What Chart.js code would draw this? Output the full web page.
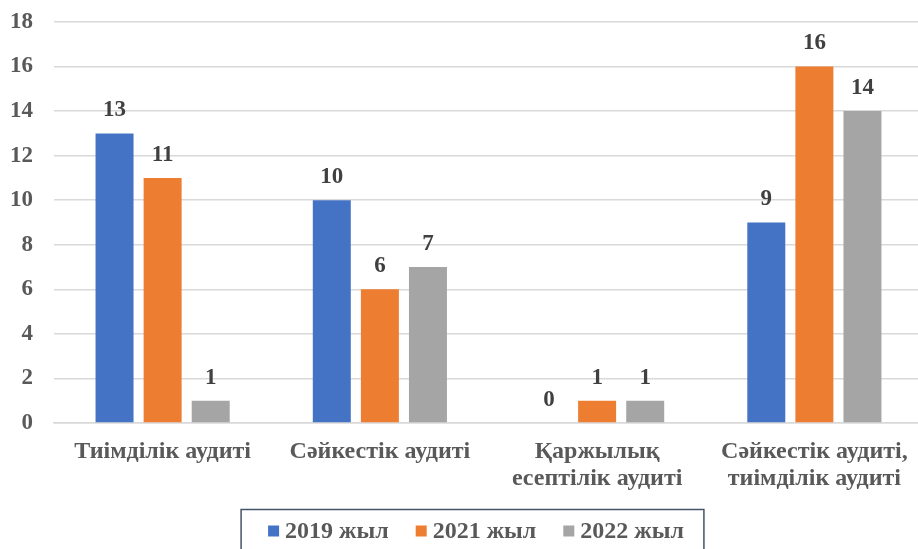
<!DOCTYPE html>
<html><head><meta charset="utf-8">
<script src="https://cdn.jsdelivr.net/npm/chart.js@4"></script>
<style>
html,body{margin:0;padding:0;background:#fff;overflow:hidden;}
#wrap{width:926px;height:549px;position:relative;}
</style></head>
<body><div id="wrap"><canvas id="c" width="926" height="549"></canvas></div>
<script>
const categories = [["Тиімділік аудиті"], ["Сәйкестік аудиті"], ["Қаржылық", "есептілік аудиті"], ["Сәйкестік аудиті,", "тиімділік аудиті"]];
const seriesNames = ["2019 жыл", "2021 жыл", "2022 жыл"];
const values2019 = [13, 10, 0, 9];
const values2021 = [11, 6, 1, 16];
const values2022 = [1, 7, 1, 14];
const yTicks = [0, 2, 4, 6, 8, 10, 12, 14, 16, 18];
const colors = ["#4472C4", "#ED7D31", "#A5A5A5"];

const FONT = "'Liberation Serif', 'Times New Roman', 'DejaVu Serif', serif";

const dataLabels = {
  id: 'dataLabels',
  afterDatasetsDraw(chart) {
    const ctx = chart.ctx;
    ctx.save();
    ctx.font = "bold 23px " + FONT;
    ctx.fillStyle = "#404040";
    ctx.textAlign = "center";
    ctx.textBaseline = "middle";
    chart.data.datasets.forEach((ds, i) => {
      const meta = chart.getDatasetMeta(i);
      meta.data.forEach((el, j) => {
        ctx.fillText(String(ds.data[j]), el.x, el.y - 23);
      });
    });
    ctx.restore();
  }
};

const customLegend = {
  id: 'customLegend',
  afterDraw(chart) {
    const ctx = chart.ctx;
    ctx.save();
    ctx.font = "bold 24px " + FONT;
    ctx.textBaseline = "middle";
    const box = 11, gap = 6, spacing = 27;
    const items = chart.data.datasets.map(ds => ({ label: ds.label, color: ds.backgroundColor, w: ctx.measureText(ds.label).width }));
    let total = 0;
    items.forEach((it, i) => { total += box + gap + it.w + (i ? spacing : 0); });
    const cx = 476, cy = 531;
    let x = cx - total / 2;
    const left = x - 27, right = cx + total / 2 + 20;
    ctx.strokeStyle = "#44546A";
    ctx.lineWidth = 1.5;
    ctx.strokeRect(left, 509.5, right - left, 60);
    items.forEach(it => {
      ctx.fillStyle = it.color;
      ctx.fillRect(x, cy - 5.5, box, box);
      ctx.fillStyle = "#595959";
      ctx.fillText(it.label, x + box + gap, cy + 1);
      x += box + gap + it.w + spacing;
    });
    ctx.restore();
  }
};

new Chart(document.getElementById('c'), {
  type: 'bar',
  data: {
    labels: categories,
    datasets: seriesNames.map((n, i) => ({
      label: n,
      data: [values2019, values2021, values2022][i],
      backgroundColor: colors[i],
      borderWidth: 0,
      categoryPercentage: 0.664,
      barPercentage: 0.79
    }))
  },
  options: {
    responsive: false,
    animation: false,
    layout: { padding: { top: 22, right: 3, left: 0, bottom: 58 } },
    plugins: {
      tooltip: { enabled: false },
      legend: { display: false }
    },
    scales: {
      x: {
        afterFit(s) { s.height = 68; },
        grid: { display: false, drawTicks: false },
        border: { color: "#D9D9D9", width: 1.5 },
        ticks: {
          color: "#595959", padding: 16, maxRotation: 0, autoSkip: false,
          font: { family: FONT, size: 24, weight: 'bold', lineHeight: 1.1 }
        }
      },
      y: {
        min: 0, max: 18,
        afterBuildTicks(s) { s.ticks = yTicks.map(v => ({ value: v })); },
        afterFit(s) { s.width = 54; s.paddingTop = 12; s.paddingBottom = 12; },
        grid: { color: "#D9D9D9", lineWidth: 1.5, drawTicks: false },
        border: { display: false },
        ticks: {
          color: "#595959", padding: 21,
          font: { family: FONT, size: 23, weight: 'bold' }
        }
      }
    }
  },
  plugins: [dataLabels, customLegend]
});
</script></body></html>
